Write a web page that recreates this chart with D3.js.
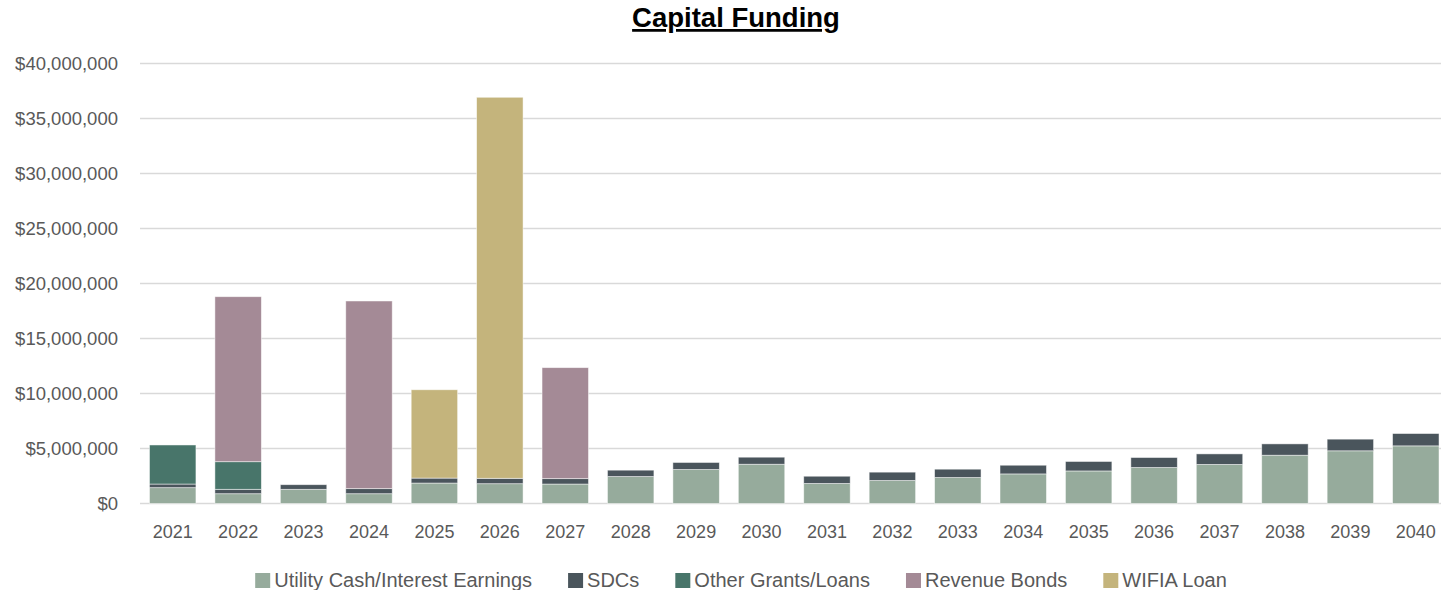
<!DOCTYPE html>
<html>
<head>
<meta charset="utf-8">
<script src="https://cdn.jsdelivr.net/npm/d3@7"></script>
<style>
  body { margin: 0; background: #fff; }
  svg { display: block; font-family: "Liberation Sans", Arial, sans-serif; }
</style>
</head>
<body>
<script>
// years on the x axis
var years = ["2021","2022","2023","2024","2025","2026","2027","2028","2029","2030",
             "2031","2032","2033","2034","2035","2036","2037","2038","2039","2040"];

// series values, dollars
var utilityCash = [1440000, 890000, 1290000, 890000, 1860000, 1800000, 1770000, 2450000, 3090000, 3570000,
                   1820000, 2090000, 2360000, 2690000, 2960000, 3270000, 3550000, 4390000, 4790000, 5240000];
var sdcs = [330000, 400000, 420000, 460000, 450000, 490000, 490000, 580000, 640000, 640000,
            660000, 760000, 760000, 790000, 860000, 910000, 960000, 1030000, 1060000, 1120000];
var otherGrants = [3550000, 2510000, 0, 0, 0, 0, 0, 0, 0, 0, 0, 0, 0, 0, 0, 0, 0, 0, 0, 0];
var revenueBonds = [0, 15000000, 0, 17060000, 0, 0, 10090000, 0, 0, 0, 0, 0, 0, 0, 0, 0, 0, 0, 0, 0];
var wifiaLoan = [0, 0, 0, 0, 8030000, 34640000, 0, 0, 0, 0, 0, 0, 0, 0, 0, 0, 0, 0, 0, 0];

var seriesNames = ["Utility Cash/Interest Earnings", "SDCs", "Other Grants/Loans", "Revenue Bonds", "WIFIA Loan"];
var yTicks = [0, 5000000, 10000000, 15000000, 20000000, 25000000, 30000000, 35000000, 40000000];

var colors = ["#96ab9c", "#4a555c", "#48756a", "#a48a96", "#c4b47c"];
var textColor = "#595959";

var W = 1441, H = 590;
// the original chart is a bit wider than the window (cut off on the right)
var fullWidth = 1472;

var svg = d3.select("body").append("svg")
    .attr("width", W)
    .attr("height", H);

// build rows for the stack
var allSeries = [utilityCash, sdcs, otherGrants, revenueBonds, wifiaLoan];
var rows = years.map(function(y, i) {
    var r = { year: y };
    seriesNames.forEach(function(s, k) { r[s] = allSeries[k][i]; });
    return r;
});
var layers = d3.stack().keys(seriesNames)(rows);

var x = d3.scaleBand()
    .domain(years)
    .range([140, 1448.5])
    .paddingInner(0.29)
    .paddingOuter(0.145);

var y = d3.scaleLinear()
    .domain([0, 40000000])
    .range([503.5, 63.5]);

var fmt = function(d) { return "$" + d3.format(",")(d); };

// gridlines
svg.append("g")
    .selectAll("line")
    .data(yTicks)
    .enter().append("line")
    .attr("x1", 140)
    .attr("x2", 1448.5)
    .attr("y1", function(d) { return y(d); })
    .attr("y2", function(d) { return y(d); })
    .attr("stroke", "#d9d9d9")
    .attr("stroke-width", 1.5);

// y axis labels
var yAxis = d3.axisLeft(y)
    .tickValues(yTicks)
    .tickFormat(fmt)
    .tickSize(0)
    .tickPadding(0);

var gy = svg.append("g")
    .attr("transform", "translate(118,0)")
    .call(yAxis);
gy.select(".domain").remove();
gy.selectAll("text")
    .attr("fill", textColor)
    .style("font-size", "18.5px")
    .style("font-family", "'Liberation Sans', Arial, sans-serif");

// bars
var layer = svg.selectAll(".layer")
    .data(layers)
    .enter().append("g")
    .attr("class", "layer")
    .attr("fill", function(d, i) { return colors[i]; });

layer.selectAll("rect")
    .data(function(d) { return d.filter(function(p) { return p[1] - p[0] > 0; }); })
    .enter().append("rect")
    .attr("x", function(d) { return x(d.data.year); })
    .attr("y", function(d) { return y(d[1]); })
    .attr("width", x.bandwidth())
    .attr("height", function(d) { return y(d[0]) - y(d[1]); })
    .attr("stroke", "#ffffff")
    .attr("stroke-opacity", 0.6)
    .attr("stroke-width", 0.8);

// x axis labels
var xAxis = d3.axisBottom(x)
    .tickSize(0)
    .tickPadding(0);

var gx = svg.append("g")
    .attr("transform", "translate(0,0)")
    .call(xAxis);
gx.select(".domain").remove();
gx.selectAll("text")
    .attr("y", 538)
    .attr("dy", null)
    .attr("fill", textColor)
    .style("font-size", "18px")
    .style("font-family", "'Liberation Sans', Arial, sans-serif");

// title
svg.append("text")
    .attr("x", fullWidth / 2)
    .attr("y", 27)
    .attr("text-anchor", "middle")
    .attr("fill", "#000")
    .style("font-size", "27.5px")
    .style("font-weight", "bold")
    .style("text-decoration", "underline")
    .text("Capital Funding");

// legend
var legend = svg.append("g").attr("class", "legend");
var sq = 15, sqGap = 4, itemGap = 36;
var pos = 0;
seriesNames.forEach(function(name, i) {
    var item = legend.append("g").attr("transform", "translate(" + pos + ",0)");
    item.append("rect")
        .attr("x", 0)
        .attr("y", 573)
        .attr("width", sq)
        .attr("height", sq)
        .attr("fill", colors[i]);
    var t = item.append("text")
        .attr("x", sq + sqGap)
        .attr("y", 587)
        .attr("fill", textColor)
        .style("font-size", "20px")
        .text(name);
    pos += sq + sqGap + t.node().getComputedTextLength() + itemGap;
});
var legendWidth = pos - itemGap;
legend.attr("transform", "translate(" + (259 + (964 - legendWidth) / 2) + ",0)");
</script>
</body>
</html>
